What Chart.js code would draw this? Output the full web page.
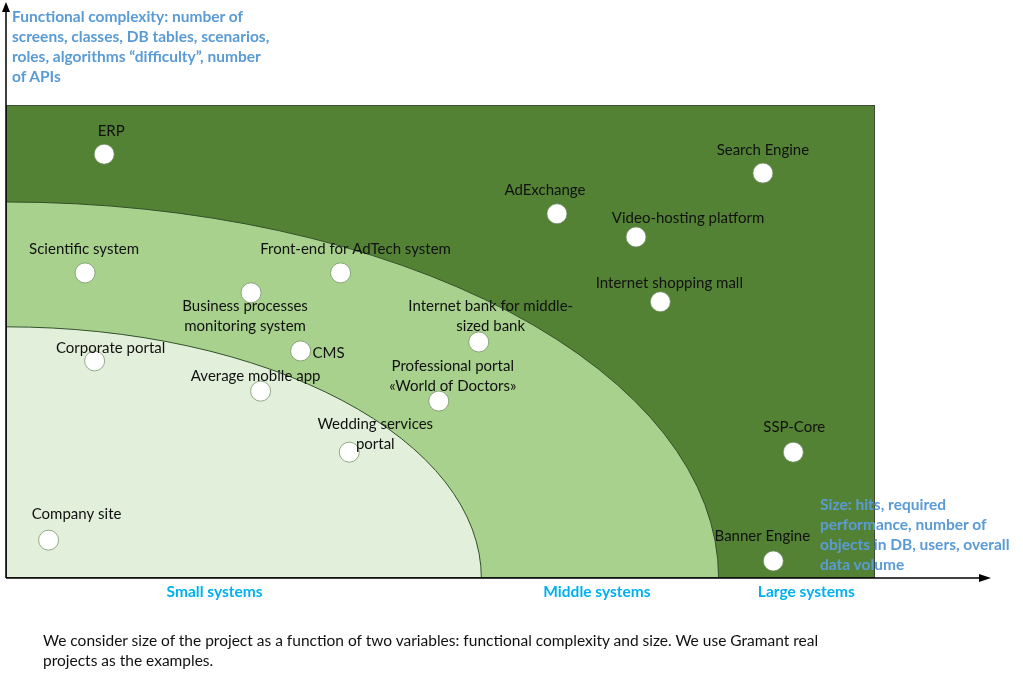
<!DOCTYPE html>
<html>
<head>
<meta charset="utf-8">
<script src="https://cdn.jsdelivr.net/npm/chart.js@4.4.1/dist/chart.umd.min.js"></script>
<style>
  html, body { margin:0; padding:0; background:#fff; }
  #wrap { position:relative; width:1023px; height:681px; overflow:hidden; font-family: Lato, "Open Sans", sans-serif; }
  canvas { position:absolute; left:0; top:0; }
  .note { position:absolute; font-weight:bold; color:#5b9bd5; font-size:15.5px; line-height:20px; white-space:nowrap; }
  #caption { position:absolute; left:43px; top:630px; font-size:15.5px; line-height:20px; color:#111; white-space:nowrap; }
</style>
</head>
<body>
<div id="wrap">
  <canvas id="c" width="1023" height="681"></canvas>
  <div class="note" style="left:12px; top:6px;">Functional complexity: number of<br>screens, classes, DB tables, scenarios,<br>roles, algorithms “difficulty”, number<br>of APIs</div>
  <div class="note" style="left:820px; top:494px;">Size: hits, required<br>performance, number of<br>objects in DB, users, overall<br>data volume</div>
  <div id="caption">We consider size of the project as a function of two variables: functional complexity and size. We use Gramant real<br>projects as the examples.</div>
</div>
<script>
// ---- Data (scale 0..100 on both axes) ----
const projects = [
  ["ERP"],
  ["Search Engine"],
  ["AdExchange"],
  ["Video-hosting platform"],
  ["Scientific system"],
  ["Front-end for AdTech system"],
  ["Business processes", "monitoring system"],
  ["Internet shopping mall"],
  ["Internet bank for middle-", "sized bank"],
  ["CMS"],
  ["Corporate portal"],
  ["Average mobile app"],
  ["Professional portal", "«World of Doctors»"],
  ["SSP-Core"],
  ["Wedding services", "portal"],
  ["Company site"],
  ["Banner Engine"]
];
const sizeValues       = [11.3, 87.1, 63.4, 72.5, 9.1, 38.5, 28.2, 75.3, 54.4, 33.9, 10.2, 29.3, 49.8, 90.6, 39.5, 4.9, 88.3];
const complexityValues = [89.6, 85.6, 77.0, 72.1, 64.5, 64.5, 60.3, 58.4, 49.9, 48.0, 45.9, 39.5, 37.4, 26.6, 26.6, 8.0, 3.6];

// zone boundaries (quarter-ellipses from origin): small, middle
const zoneSizeRadius       = [54.7, 82.0];
const zoneComplexityRadius = [53.1, 79.5];
const zoneLabels  = ["Small systems", "Middle systems", "Large systems"];
const zoneCenters = [24.0, 68.0, 92.1];

// label offsets in px (text centre relative to point) — presentation only
const labelOffsets = [
  [7,-23],[0,-23],[-12,-24],[52,-19],[-1,-24],[15,-24],[-6,13],[9,-19],
  [12,-36],[28,2],[16,-13],[-5,-15],[14,-35],[1,-25],[26,-28],[28,-26],[-11,-25]
];

const points = sizeValues.map((x, i) => ({ x: x, y: complexityValues[i] }));

const zonesPlugin = {
  id: 'zones',
  beforeDatasetsDraw(chart) {
    const { ctx, chartArea: a, scales: { x, y } } = chart;
    ctx.save();
    ctx.fillStyle = '#548235';
    ctx.fillRect(a.left, a.top, a.right - a.left, a.bottom - a.top);
    ctx.beginPath();
    ctx.rect(a.left, a.top, a.right - a.left, a.bottom - a.top);
    ctx.clip();
    const cx = x.getPixelForValue(0), cy = y.getPixelForValue(0);
    const fills = ['#e2efda', '#a9d18e'];
    for (let i = zoneSizeRadius.length - 1; i >= 0; i--) {
      const rx = x.getPixelForValue(zoneSizeRadius[i]) - cx;
      const ry = cy - y.getPixelForValue(zoneComplexityRadius[i]);
      ctx.beginPath();
      ctx.moveTo(cx, cy);
      ctx.ellipse(cx, cy, rx, ry, 0, -Math.PI / 2, 0);
      ctx.closePath();
      ctx.fillStyle = fills[i];
      ctx.fill();
      ctx.beginPath();
      ctx.ellipse(cx, cy, rx, ry, 0, -Math.PI / 2, 0);
      ctx.strokeStyle = '#33502a';
      ctx.lineWidth = 1;
      ctx.stroke();
    }
    ctx.restore();
    ctx.save();
    ctx.strokeStyle = '#3d4a35';
    ctx.lineWidth = 1;
    ctx.strokeRect(a.left + 0.5, a.top + 0.5, a.right - a.left - 1, a.bottom - a.top - 1);
    ctx.restore();
  },
  afterDatasetsDraw(chart) {
    const { ctx, chartArea: a, scales: { x, y } } = chart;
    ctx.save();
    // labels
    ctx.font = '15px Lato, "Open Sans", sans-serif';
    ctx.fillStyle = '#111';
    ctx.textAlign = 'center';
    ctx.textBaseline = 'middle';
    const meta = chart.getDatasetMeta(0);
    meta.data.forEach((el, i) => {
      const lines = projects[i];
      const [dx, dy] = labelOffsets[i];
      lines.forEach((ln, k) => ctx.fillText(ln, el.x + dx, el.y + dy + k * 20));
    });
    // axes with arrows
    const ox = a.left, oy = a.bottom;
    ctx.strokeStyle = '#000';
    ctx.fillStyle = '#000';
    ctx.lineWidth = 1.5;
    ctx.beginPath();
    ctx.moveTo(ox, oy); ctx.lineTo(ox, 8);
    ctx.moveTo(ox, oy); ctx.lineTo(980, oy);
    ctx.stroke();
    ctx.beginPath();
    ctx.moveTo(ox, 2); ctx.lineTo(ox - 4, 12); ctx.lineTo(ox + 4, 12); ctx.closePath(); ctx.fill();
    ctx.beginPath();
    ctx.moveTo(991, oy); ctx.lineTo(979, oy - 4); ctx.lineTo(979, oy + 4); ctx.closePath(); ctx.fill();
    // zone labels
    ctx.font = 'bold 15.5px Lato, "Open Sans", sans-serif';
    ctx.fillStyle = '#00b0f0';
    zoneLabels.forEach((t, i) => ctx.fillText(t, x.getPixelForValue(zoneCenters[i]), oy + 14));
    ctx.restore();
  }
};

new Chart(document.getElementById('c'), {
  type: 'scatter',
  data: {
    datasets: [{
      data: points,
      pointRadius: 10,
      pointBackgroundColor: '#ffffff',
      pointBorderColor: 'rgba(110,140,95,0.7)',
      pointBorderWidth: 1
    }]
  },
  options: {
    responsive: false,
    animation: false,
    events: [],
    layout: { autoPadding: false, padding: { left: 6, top: 105, right: 148, bottom: 103 } },
    plugins: { legend: { display: false }, tooltip: { enabled: false } },
    scales: {
      x: { type: 'linear', min: 0, max: 100, display: false },
      y: { type: 'linear', min: 0, max: 100, display: false }
    }
  },
  plugins: [zonesPlugin]
});
</script>
</body>
</html>
